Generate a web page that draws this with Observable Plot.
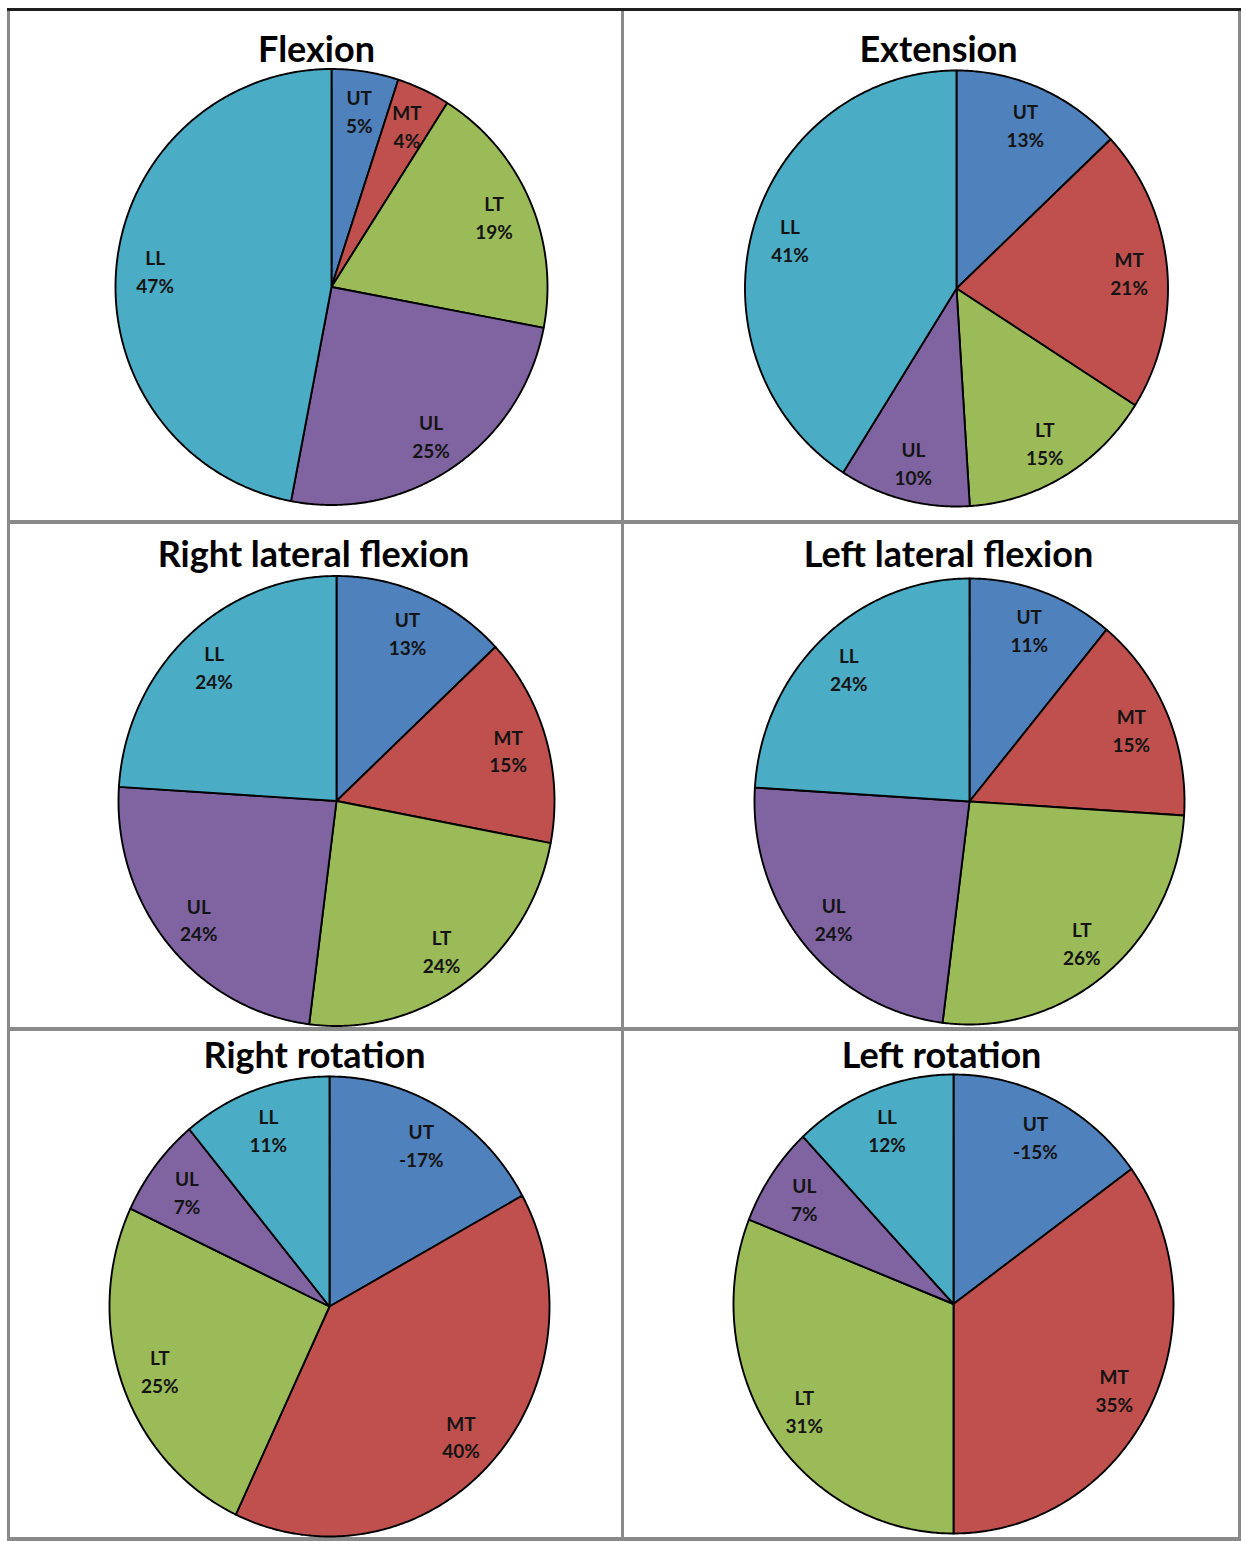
<!DOCTYPE html>
<html>
<head>
<meta charset="utf-8">
<script src="https://cdn.jsdelivr.net/npm/d3@7"></script>
<script src="https://cdn.jsdelivr.net/npm/@observablehq/plot@0.6"></script>
<style>
  html, body { margin: 0; padding: 0; background: #fff; }
  body { width: 1246px; height: 1541px; position: relative; overflow: hidden; font-family: Lato, "Open Sans", sans-serif; }
  .panel { position: absolute; }
  .panel svg { display: block; overflow: visible; }
  .rule { position: absolute; background: #8a8a8a; }
  g[aria-label="shadow"] { filter: blur(3px); }
</style>
</head>
<body>
<script>
// ---------------- data ----------------
const segments = ["UT", "MT", "LT", "UL", "LL"];
const titles = ["Flexion", "Extension", "Right lateral flexion", "Left lateral flexion", "Right rotation", "Left rotation"];
const flexion = [5, 4, 19, 25, 47];
const extension = [13, 21, 15, 10, 41];
const rightLateralFlexion = [13, 15, 24, 24, 24];
const leftLateralFlexion = [11, 15, 26, 24, 24];
const rightRotation = [-17, 40, 25, 7, 11];
const leftRotation = [-15, 35, 31, 7, 12];
const seriesValues = [flexion, extension, rightLateralFlexion, leftLateralFlexion, rightRotation, leftRotation];

// ---------------- styles / layout ----------------
const segmentColors = ["#4F81BD", "#C0504D", "#9BBB59", "#8064A2", "#4BACC6"];
const colX = [[10, 621], [624, 1238]];
const rowY = [[11, 520], [524, 1027], [1031, 1537]];
const pieGeom = [
  {cx: 331, cy: 286.5, rx: 216, ry: 218},
  {cx: 956, cy: 288, rx: 211.5, ry: 218},
  {cx: 336, cy: 800.5, rx: 218, ry: 225},
  {cx: 969, cy: 801, rx: 215, ry: 223},
  {cx: 329, cy: 1306, rx: 220, ry: 230},
  {cx: 953, cy: 1303.5, rx: 220, ry: 229.5}
];
const titlePos = [
  {x: 316, base: 61}, {x: 938, base: 61},
  {x: 313, base: 566}, {x: 948, base: 566},
  {x: 314, base: 1067}, {x: 941, base: 1067}
];
const labelRadius = 0.82;

// ---------------- rules ----------------
function rule(l, t, w, h, c) {
  const d = document.createElement("div");
  d.className = "rule";
  Object.assign(d.style, {left: l + "px", top: t + "px", width: w + "px", height: h + "px"});
  if (c) d.style.background = c;
  document.body.appendChild(d);
}
rule(7, 8, 3, 1533);
rule(1238, 8, 3, 1533);
rule(7, 1537, 1234, 4);
rule(621, 8, 3, 1533);
rule(7, 520, 1234, 4);
rule(7, 1027, 1234, 4);
rule(7, 8, 1234, 3, "#1e1e1e");

// ---------------- pies ----------------
function slicesOf(values) {
  const total = d3.sum(values, Math.abs);
  let acc = 0;
  return values.map((v, j) => {
    const a0 = acc / total * 2 * Math.PI;
    acc += Math.abs(v);
    const a1 = acc / total * 2 * Math.PI;
    return {segment: segments[j], value: v, color: segmentColors[j], a0, a1};
  });
}
function polygon(s) {
  const n = Math.max(2, Math.ceil((s.a1 - s.a0) / (Math.PI / 360)));
  const pts = [{x: 0, y: 0}];
  for (let k = 0; k <= n; k++) {
    const a = s.a0 + (s.a1 - s.a0) * k / n;
    pts.push({x: Math.sin(a), y: Math.cos(a)});
  }
  return pts;
}
function ellipse() {
  const pts = [];
  for (let k = 0; k < 360; k++) {
    const a = k / 360 * 2 * Math.PI;
    pts.push({x: Math.sin(a), y: Math.cos(a)});
  }
  return pts;
}

seriesValues.forEach((values, i) => {
  const col = i % 2, row = Math.floor(i / 2);
  const [x0, x1] = colX[col], [y0, y1] = rowY[row];
  const W = x1 - x0, H = y1 - y0;
  const g = pieGeom[i];
  const cx = g.cx - x0, cy = g.cy - y0;
  const slices = slicesOf(values);
  const labels = slices.map(s => {
    const m = (s.a0 + s.a1) / 2;
    return {x: labelRadius * Math.sin(m), y: labelRadius * Math.cos(m), text: `${s.segment}\n${s.value}%`};
  });
  const tp = titlePos[i];

  const plot = Plot.plot({
    width: W,
    height: H,
    margin: 0,
    style: {background: "transparent", overflow: "visible"},
    x: {axis: null, domain: [-cx / g.rx, (W - cx) / g.rx], range: [0, W]},
    y: {axis: null, domain: [-(H - cy) / g.ry, cy / g.ry], range: [H, 0]},
    marks: [
      Plot.line(ellipse(), {x: "x", y: "y", curve: "linear-closed", fill: "#000", fillOpacity: 0.3, stroke: "none", dx: 2, dy: 4, ariaLabel: "shadow"}),
      ...slices.map(s => Plot.line(polygon(s), {
        x: "x", y: "y", curve: "linear-closed", fill: s.color,
        stroke: "#000", strokeWidth: 1.9, strokeLinejoin: "round"
      })),
      Plot.text(labels, {
        x: "x", y: "y", text: "text", fontSize: 19, fontWeight: "bold",
        lineHeight: 1.47, fill: "#141414", fontFamily: "Lato", lineAnchor: "middle"
      }),
      Plot.text([titles[i]], {
        text: d => d, frameAnchor: "top-left", dx: tp.x - x0, dy: tp.base - y0,
        lineAnchor: "bottom", textAnchor: "middle",
        fontSize: 36, fontWeight: "bold", fontFamily: "Lato", fill: "#000"
      })
    ]
  });
  const div = document.createElement("div");
  div.className = "panel";
  Object.assign(div.style, {left: x0 + "px", top: y0 + "px", width: W + "px", height: H + "px"});
  div.appendChild(plot);
  document.body.appendChild(div);
});
</script>
</body>
</html>
